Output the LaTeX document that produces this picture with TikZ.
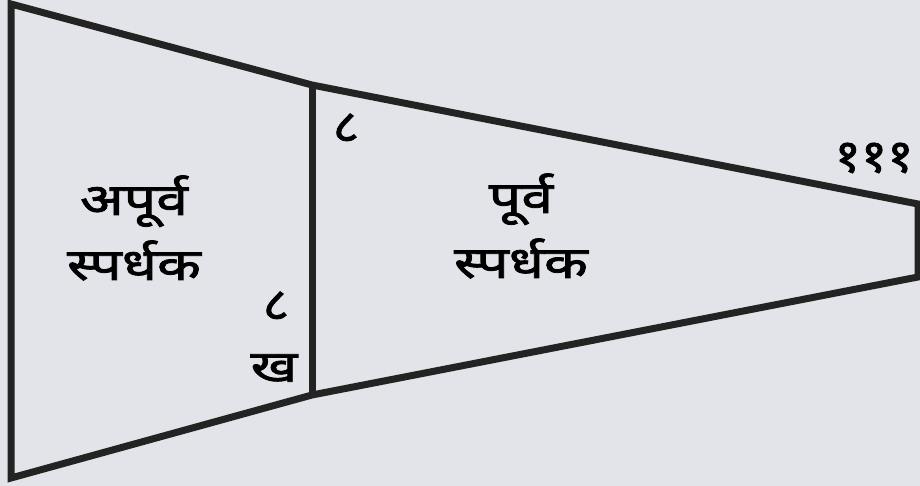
\documentclass[tikz,border=0pt]{standalone}
\usepackage{fontspec}
\newfontfamily\deva[Script=Devanagari,FakeStretch=1.3,FakeBold=1.8]{Noto Sans}
\newfontfamily\devanum[Script=Devanagari,FakeStretch=1.1,FakeBold=1.8]{Noto Sans}
\definecolor{bg}{HTML}{E2E4E9}
\definecolor{ink}{HTML}{232323}
\tikzset{
  edge/.style={draw=ink,line width=7pt,line join=miter},
  lbl/.style={font=\deva\fontsize{44}{65}\selectfont,text=black,inner sep=0pt,align=center},
  numlbl/.style={font=\devanum\fontsize{46}{64}\selectfont,text=black,inner sep=0pt},
}
\begin{document}
\begin{tikzpicture}[x=1pt,y=-1pt]
\fill[bg] (0,0) rectangle (920,486);
\useasboundingbox (0,0) rectangle (920,486);
\coordinate (tl) at (11,4);
\coordinate (tm) at (312,85);
\coordinate (tr) at (918,204);
\coordinate (br) at (918,277);
\coordinate (bm) at (312,395);
\coordinate (bl) at (11,478);
\draw[edge] (tl) -- (tm) -- (tr) -- (br) -- (bm) -- (bl) -- cycle;
\draw[edge] (tm) -- (bm);
\node[lbl] (apurva) at (134,228) {अपूर्व\\स्पर्धक};
\node[lbl] (purva) at (521,226) {पूर्व\\स्पर्धक};
\node[numlbl] (ashtaT) at (346,128) {८};
\node[numlbl] (ekaso) at (874,158) {१११};
\node[numlbl] (ashtaB) at (276,306) {८};
\node[lbl] (kha) at (274,368) {ख};
\end{tikzpicture}
\end{document}
